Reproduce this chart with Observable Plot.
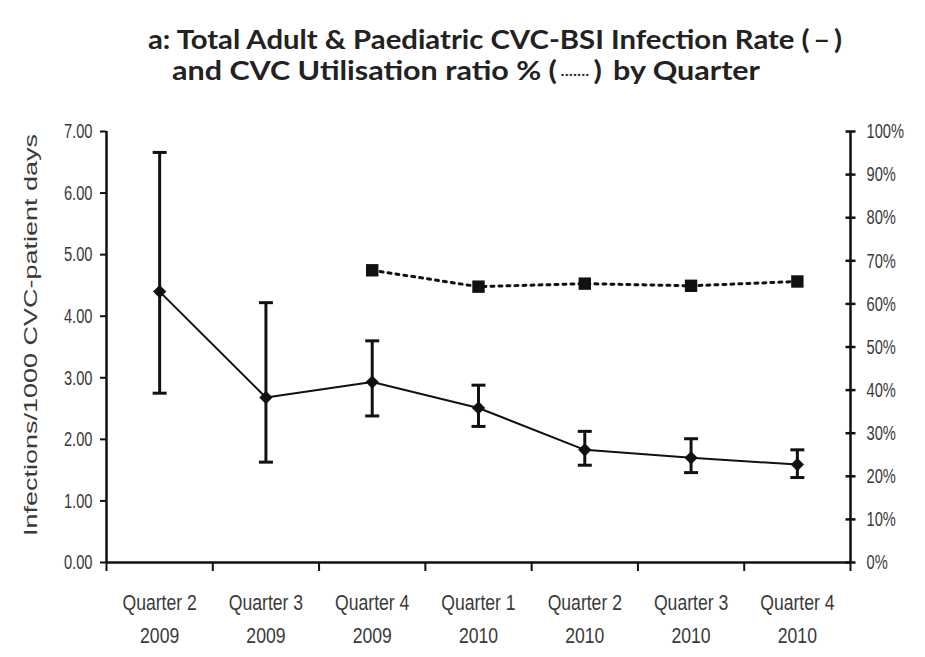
<!DOCTYPE html>
<html><head><meta charset="utf-8">
<script src="https://cdn.jsdelivr.net/npm/d3@7"></script>
<script src="https://cdn.jsdelivr.net/npm/@observablehq/plot@0.6"></script>
<style>
body{margin:0;background:#fff;width:925px;height:657px;overflow:hidden;font-family:"Liberation Sans",Arial,sans-serif}
#title{position:relative;height:95px;}
#title .ln{position:absolute;white-space:nowrap;font-family:Lato,"Open Sans",sans-serif;font-weight:700;font-size:26px;color:#222;transform-origin:0 50%;line-height:1}
#chart svg{display:block}
</style></head><body>
<div id="title">
<div class="ln" id="t1">a: Total Adult &amp; Paediatric CVC-BSI Infection Rate (&#8201;&#8211;&#8201;)</div>
<div class="ln" id="t2">and CVC Utilisation ratio % (&#8201;<span style="font-size:11px;vertical-align:middle;letter-spacing:0.5px">&#183;&#183;&#183;&#183;&#183;&#183;&#183;</span>&#8201;) &#8201;by Quarter</div>
</div>
<div id="chart"></div>
<script>
const quarters = ["Quarter 2", "Quarter 3", "Quarter 4", "Quarter 1", "Quarter 2", "Quarter 3", "Quarter 4"];
const years = ["2009", "2009", "2009", "2010", "2010", "2010", "2010"];
const rate = [4.40, 2.68, 2.93, 2.51, 1.83, 1.70, 1.59];
const rateLow = [2.75, 1.63, 2.38, 2.21, 1.58, 1.46, 1.38];
const rateHigh = [6.66, 4.22, 3.60, 2.88, 2.13, 2.01, 1.83];
const utilPct = [null, null, 67.8, 64.0, 64.7, 64.2, 65.2];
const leftTicks = [0, 1, 2, 3, 4, 5, 6, 7];
const rightTicksPct = [0, 10, 20, 30, 40, 50, 60, 70, 80, 90, 100];
const yLabel = "Infections/1000 CVC-patient days";

// title fitting
function fit(id, left, top, width) {
  const el = document.getElementById(id);
  el.style.left = left + "px"; el.style.top = top + "px";
  const w = el.getBoundingClientRect().width;
  el.style.transform = `scaleX(${width / w})`;
}
fit("t1", 148, 26, 694);
fit("t2", 172, 57, 588);

const yMax = leftTicks[leftTicks.length - 1];
const toY = p => p / 100 * yMax;
const idx = d3.range(quarters.length);
const xDom = [-0.5, quarters.length - 0.5];
const data = idx.map(i => ({i, rate: rate[i], lo: rateLow[i], hi: rateHigh[i], util: utilPct[i]}));
const utilData = data.filter(d => d.util != null);
const hline = {draw(ctx, size) { const r = Math.sqrt(size / Math.PI); ctx.moveTo(-r, 0); ctx.lineTo(r, 0); }};
const ink = "#111";

const plot = Plot.plot({
  width: 925, height: 562,
  marginTop: 36, marginBottom: 95, marginLeft: 106, marginRight: 75,
  style: {fontFamily: '"Liberation Sans", Arial, sans-serif', fontSize: "21px", color: "#3a3a3a", background: "#fff", overflow: "visible"},
  x: {type: "linear", domain: xDom, label: null},
  y: {domain: [0, yMax], label: null},
  marks: [
    Plot.axisX({ticks: d3.range(xDom[0], xDom[1] + 0.01, 1), tickSize: 9, tickFormat: () => "", stroke: ink, strokeWidth: 2, label: null}),
    Plot.axisX({ticks: idx, tickSize: 0, tickPadding: 24, tickFormat: i => quarters[i] + "\n" + years[i], lineHeight: 1.5, fontSize: 22, label: null}),
    Plot.axisY({anchor: "left", ticks: leftTicks, tickSize: 6, tickPadding: 8, tickFormat: d3.format(".2f"), stroke: ink, strokeWidth: 2,
      label: yLabel, labelAnchor: "center", labelOffset: 82}),
    Plot.axisY({anchor: "right", ticks: rightTicksPct.map(toY), tickSize: 0, tickPadding: 16, tickFormat: v => Math.round(v / yMax * 100) + "%", label: null}),
    Plot.dot(rightTicksPct.map(toY), {x: xDom[1], y: d => d, symbol: hline, r: 5, stroke: ink, strokeWidth: 2.5}),
    Plot.ruleX(xDom, {stroke: ink, strokeWidth: 2.5}),
    Plot.ruleY([0], {stroke: ink, strokeWidth: 2.5}),
    Plot.ruleX(data, {x: "i", y1: "lo", y2: "hi", stroke: ink, strokeWidth: 3}),
    Plot.dot(data, {x: "i", y: "lo", symbol: hline, r: 7, stroke: ink, strokeWidth: 3}),
    Plot.dot(data, {x: "i", y: "hi", symbol: hline, r: 7, stroke: ink, strokeWidth: 3}),
    Plot.line(data, {x: "i", y: "rate", stroke: ink, strokeWidth: 2}),
    Plot.dot(data, {x: "i", y: "rate", symbol: "diamond2", r: 6, fill: ink}),
    Plot.line(utilData, {x: "i", y: d => toY(d.util), stroke: ink, strokeWidth: 3, strokeDasharray: "3,5"}),
    Plot.dot(utilData, {x: "i", y: d => toY(d.util), symbol: "square", r: 7, fill: ink})
  ]
});
document.getElementById("chart").appendChild(plot);

// condense horizontal text like the reference
const scales = {"x-axis tick label": 0.8, "y-axis tick label": 0.7};
plot.querySelectorAll("text").forEach(t => {
  const g = t.closest("g[aria-label]");
  const lab = g ? g.getAttribute("aria-label") : "";
  if (lab === "y-axis label") {
    t.textContent = yLabel;
    t.style.fontSize = "27px";
    t.setAttribute("transform", (t.getAttribute("transform") || "") + " translate(12,0) scale(1,0.66)");
    return;
  }
  const s = scales[lab];
  if (!s) return;
  let tr = t.getAttribute("transform");
  if (!tr) {
    const x = t.getAttribute("x") || 0, y = t.getAttribute("y") || 0;
    t.removeAttribute("x"); t.removeAttribute("y");
    tr = `translate(${x},${y})`;
  }
  t.setAttribute("transform", tr + ` scale(${s},1)`);
});
</script>
</body></html>
